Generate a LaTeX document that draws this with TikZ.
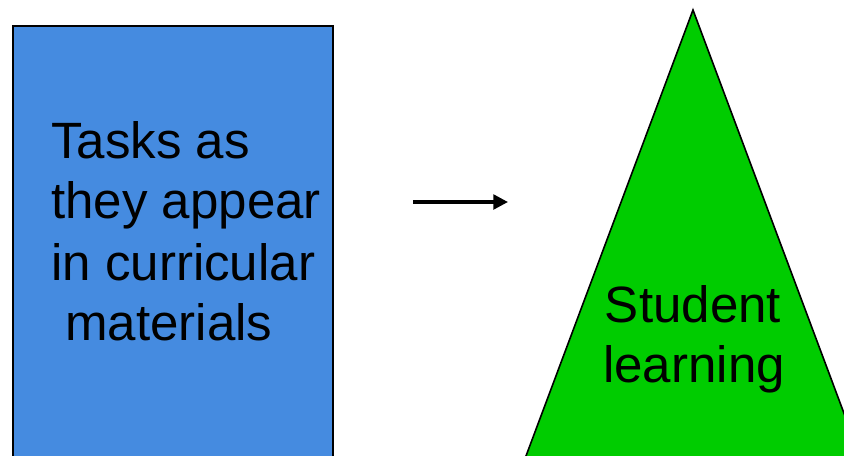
\documentclass[tikz,border=0pt]{standalone}
\usepackage{fontspec}
\setmainfont{Liberation Sans}
\usetikzlibrary{arrows.meta}
\definecolor{taskblue}{RGB}{69,139,224}
\definecolor{learngreen}{RGB}{0,204,0}
\tikzset{
  bigtext/.style={inner sep=0pt,font=\fontsize{38.3pt}{45pt}\selectfont}
}
\begin{document}
\begin{tikzpicture}[x=0.75pt,y=0.75pt,yscale=-1,xscale=1]
\useasboundingbox (0,0) rectangle (844,455);
\clip (0,0) rectangle (844,455);

%Shape: Rectangle [id:tasks]
\draw [fill=taskblue,line width=1.5] (12.5,25.5) rectangle (333,480) ;
%Shape: Triangle [id:learning]
\draw [fill=learngreen,line width=1.2] (693,10) -- (869,480) -- (517,480) -- cycle ;

% Text Node
\node (tasks1) [bigtext,anchor=base west] at (51,158) {Tasks as};
% Text Node
\node (tasks2) [bigtext,anchor=base west] at (51,218) {they appear};
% Text Node
\node (tasks3) [bigtext,anchor=base west] at (51,280) {in curricular};
% Text Node
\node (tasks4) [bigtext,anchor=base west] at (65,340) {materials};
% Text Node
\node (learn1) [bigtext,anchor=base] at (693,322) {Student};
% Text Node
\node (learn2) [bigtext,anchor=base] at (694,382) {learning};

%Straight Lines [id:arrow]
\coordinate (arrfrom) at (413,202);
\coordinate (arrto) at (508,202);
\draw [line width=2.5,-{Triangle[length=11pt,width=11pt]}] (arrfrom) -- (arrto) ;

\end{tikzpicture}
\end{document}
